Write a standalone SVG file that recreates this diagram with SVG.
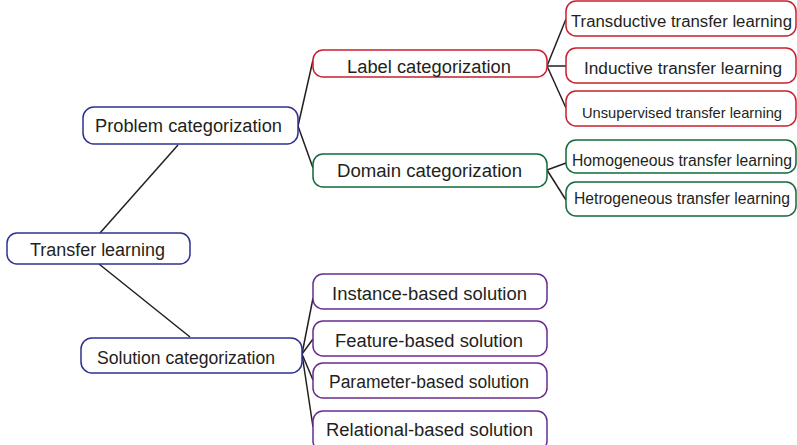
<svg xmlns="http://www.w3.org/2000/svg" width="797" height="445" viewBox="0 0 797 445">
<style>
rect{fill:#fff;stroke-width:1.5}
.b{stroke:#2e3192}.r{stroke:#c8202f}.g{stroke:#13693a}.p{stroke:#6a2c91}
text{font-family:"Liberation Sans",Arial,sans-serif;fill:#231f20;text-anchor:middle}
.l{font-size:18px}.s{font-size:16px}
#connectors line{stroke:#231f20;stroke-width:1.5}
</style>
<rect width="797" height="445" fill="#fff" stroke="none"/>
<g id="connectors">
<line x1="100" y1="233" x2="178" y2="145"/>
<line x1="99" y1="264" x2="190" y2="337"/>
<line x1="298" y1="126" x2="313" y2="60"/>
<line x1="298" y1="126" x2="313" y2="168"/>
<line x1="547" y1="66" x2="566" y2="19"/>
<line x1="547" y1="66" x2="566" y2="66"/>
<line x1="547" y1="66" x2="566" y2="108"/>
<line x1="547" y1="170" x2="566" y2="163"/>
<line x1="547" y1="170" x2="566" y2="200"/>
<line x1="302" y1="354" x2="313" y2="298"/>
<line x1="302" y1="354" x2="313" y2="339"/>
<line x1="302" y1="354" x2="313" y2="380"/>
<line x1="302" y1="354" x2="313" y2="427"/>
</g>
<g id="transfer"><rect class="b" x="7" y="233" width="183" height="31" rx="10"/><text class="l" x="97.5" y="256" textLength="135" lengthAdjust="spacingAndGlyphs">Transfer learning</text></g>
<g id="problem"><rect class="b" x="83" y="107" width="215" height="37" rx="11"/><text class="l" x="188.5" y="132" textLength="187" lengthAdjust="spacingAndGlyphs">Problem categorization</text></g>
<g id="solution"><rect class="b" x="81" y="338" width="221" height="35" rx="11"/><text class="l" x="186" y="364" textLength="178" lengthAdjust="spacingAndGlyphs">Solution categorization</text></g>
<g id="label"><rect class="r" x="313" y="50" width="234" height="27" rx="10"/><text class="l" x="429" y="73" textLength="164" lengthAdjust="spacingAndGlyphs">Label categorization</text></g>
<g id="domain"><rect class="g" x="313" y="154" width="234" height="33" rx="10"/><text class="l" x="429.5" y="177" textLength="185" lengthAdjust="spacingAndGlyphs">Domain categorization</text></g>
<g id="transductive"><rect class="r" x="566" y="1" width="230" height="35" rx="10"/><text class="s" x="681.5" y="27" textLength="221" lengthAdjust="spacingAndGlyphs">Transductive transfer learning</text></g>
<g id="inductive"><rect class="r" x="566" y="48" width="230" height="35" rx="10"/><text class="s" x="683" y="74" textLength="198" lengthAdjust="spacingAndGlyphs">Inductive transfer learning</text></g>
<g id="unsupervised"><rect class="r" x="566" y="91" width="230" height="35" rx="10"/><text x="682" y="118" font-size="15" textLength="200" lengthAdjust="spacingAndGlyphs">Unsupervised transfer learning</text></g>
<g id="homogeneous"><rect class="g" x="566" y="140" width="230" height="33" rx="10"/><text class="s" x="682" y="166" textLength="220" lengthAdjust="spacingAndGlyphs">Homogeneous transfer learning</text></g>
<g id="hetrogeneous"><rect class="g" x="566" y="182" width="230" height="34" rx="10"/><text class="s" x="682" y="204" textLength="216" lengthAdjust="spacingAndGlyphs">Hetrogeneous transfer learning</text></g>
<g id="instance"><rect class="p" x="313" y="274" width="234" height="35" rx="10"/><text class="l" x="429.5" y="300" textLength="195" lengthAdjust="spacingAndGlyphs">Instance-based solution</text></g>
<g id="feature"><rect class="p" x="313" y="321" width="234" height="35" rx="10"/><text class="l" x="429" y="347" textLength="188" lengthAdjust="spacingAndGlyphs">Feature-based solution</text></g>
<g id="parameter"><rect class="p" x="313" y="363" width="234" height="35" rx="10"/><text class="l" x="429" y="388" textLength="200" lengthAdjust="spacingAndGlyphs">Parameter-based solution</text></g>
<g id="relational"><rect class="p" x="313" y="411" width="234" height="40" rx="10"/><text class="l" x="429.5" y="436" textLength="207" lengthAdjust="spacingAndGlyphs">Relational-based solution</text></g>
</svg>
